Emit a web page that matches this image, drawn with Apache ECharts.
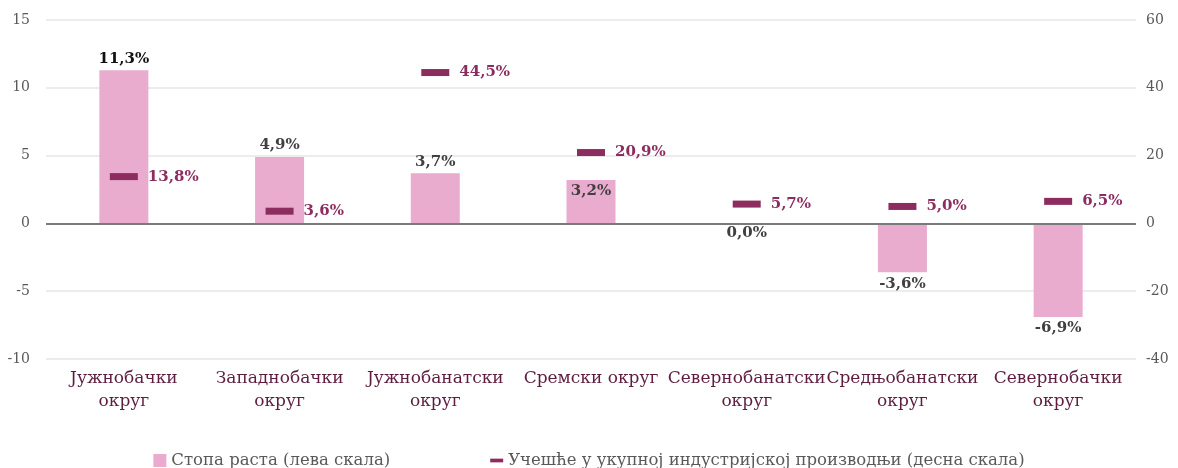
<!DOCTYPE html>
<html>
<head>
<meta charset="utf-8">
<script src="https://cdn.jsdelivr.net/npm/echarts@6/dist/echarts.min.js"></script>
<style>
  html, body { margin: 0; padding: 0; background: #fff; }
  #chart { width: 1178px; height: 468px; }
</style>
</head>
<body>
<div id="chart"></div>
<script>
// подаци
var categories = ['Јужнобачки\nокруг', 'Западнобачки\nокруг', 'Јужнобанатски\nокруг', 'Сремски округ',
                  'Севернобанатски\nокруг', 'Средњобанатски\nокруг', 'Севернобачки\nокруг'];
var stopaRasta = [11.3, 4.9, 3.7, 3.2, 0.0, -3.6, -6.9];
var ucesce = [13.8, 3.6, 44.5, 20.9, 5.7, 5.0, 6.5];
var leftTicks = { min: -10, max: 15, interval: 5 };
var rightTicks = { min: -40, max: 60, interval: 20 };
// положај ознаке стубића
var barLabelPos = ['top', 'top', 'top', 'insideTop', 'bottom', 'bottom', 'bottom'];

var serif = '"DejaVu Serif", "Liberation Serif", serif';

function pct(v) {
    return v.toFixed(1).replace('.', ',') + '%';
}

var chart = echarts.init(document.getElementById('chart'));

var barData = stopaRasta.map(function (v, i) {
    return {
        value: v,
        label: {
            position: barLabelPos[i],
            distance: v === 0 ? 2 : 4,
            color: i === 0 ? '#111' : '#404040'
        }
    };
});

var option = {
    animation: false,
    textStyle: { fontFamily: serif },
    grid: { left: 46, right: 42, top: 20, bottom: 109, outerBoundsMode: 'none' },
    legend: {
        bottom: -6,
        left: 'center',
        itemGap: 100,
        itemWidth: 13,
        itemHeight: 13,
        itemTextGap: 4,
        textStyle: { fontFamily: serif, fontSize: 16.5, color: '#595959' },
        data: [
            { name: 'Стопа раста (лева скала)', icon: 'rect' },
            { name: 'Учешће у укупној индустријској производњи (десна скала)', icon: 'path://M0,0 H14 V4 H0 Z' }
        ]
    },
    xAxis: {
        type: 'category',
        data: categories,
        axisTick: { show: false },
        axisLine: { show: false, onZero: false },
        axisLabel: {
            interval: 0,
            color: '#5e1d40',
            fontSize: 17,
            lineHeight: 23,
            margin: 8,
            fontFamily: serif
        }
    },
    yAxis: [
        {
            type: 'value',
            min: leftTicks.min, max: leftTicks.max, interval: leftTicks.interval,
            axisLabel: { color: '#595959', fontSize: 14, margin: 16, fontFamily: serif },
            splitLine: { lineStyle: { color: '#e6e6e6', width: 1.5 } },
            axisLine: { show: false },
            axisTick: { show: false }
        },
        {
            type: 'value',
            min: rightTicks.min, max: rightTicks.max, interval: rightTicks.interval,
            axisLabel: { color: '#595959', fontSize: 14, margin: 10, fontFamily: serif },
            splitLine: { show: false },
            axisLine: { show: false },
            axisTick: { show: false }
        }
    ],
    series: [
        {
            name: 'Стопа раста (лева скала)',
            type: 'bar',
            data: barData,
            barWidth: 49,
            itemStyle: { color: '#e9accf' },
            label: {
                show: true,
                fontFamily: serif,
                fontWeight: 'bold',
                fontSize: 15,
                formatter: function (p) { return pct(p.value); }
            },
            // нулта линија
            markLine: {
                silent: true,
                symbol: 'none',
                label: { show: false },
                lineStyle: { color: '#7a7a7a', width: 2, type: 'solid' },
                data: [{ yAxis: 0 }]
            }
        },
        {
            name: 'Учешће у укупној индустријској производњи (десна скала)',
            type: 'scatter',
            yAxisIndex: 1,
            data: ucesce,
            symbol: 'rect',
            symbolSize: [28, 7],
            itemStyle: { color: '#8d2c5f', opacity: 1 },
            z: 5,
            label: {
                show: true,
                position: 'right',
                distance: 10,
                color: '#8d2c5f',
                fontFamily: serif,
                fontWeight: 'bold',
                fontSize: 15,
                formatter: function (p) { return pct(p.value); }
            }
        }
    ]
};

chart.setOption(option);
</script>
</body>
</html>
